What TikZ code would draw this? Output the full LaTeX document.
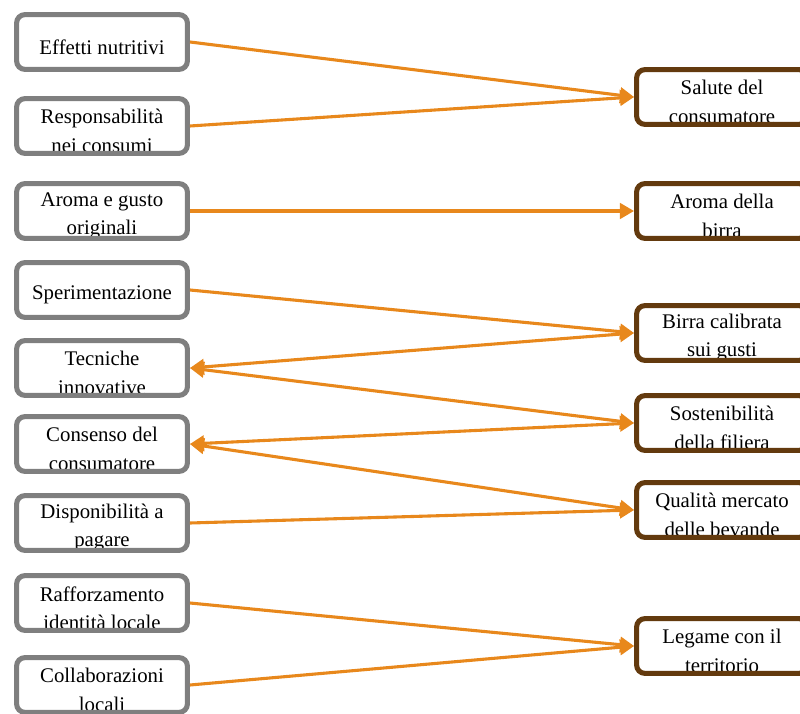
\documentclass[tikz,border=0pt]{standalone}
\usepackage{fontspec}
\setmainfont{Liberation Serif}
\usetikzlibrary{arrows.meta}
\definecolor{framegray}{RGB}{127,127,127}
\definecolor{framebrown}{RGB}{99,58,14}
\definecolor{linkorange}{RGB}{232,136,28}
\tikzset{
  boxtext/.style={inner sep=0pt,align=center,font=\fontsize{14.8}{20}\selectfont},
  factor/.style={draw=framegray,line width=3.6pt,rounded corners=6pt,
    minimum width=4.27cm,minimum height=1.37cm,inner sep=0pt,
    path picture={\node[boxtext] at ([yshift=-3.5pt]path picture bounding box.center) {#1};}},
  outcome/.style={factor={#1},draw=framebrown},
  link/.style={draw=linkorange,line width=2.2pt,-{Triangle[length=10pt,width=11pt]}},
  twolink/.style={link,{Triangle[length=10pt,width=11pt]}-{Triangle[length=10pt,width=11pt]}}
}
\begin{document}
\begin{tikzpicture}[x=0.025cm,y=-0.025cm]
\useasboundingbox (0,0) rectangle (800,714);
% left column
\node[factor={Effetti nutritivi}] (eff) at (102,42) {};
\node[factor={Responsabilità\\nei consumi}] (resp) at (102,126) {};
\node[factor={Aroma e gusto\\originali}] (aroma) at (102,211) {};
\node[factor={Sperimentazione}] (sper) at (102,290) {};
\node[factor={Tecniche\\innovative}] (tecn) at (102,368) {};
\node[factor={Consenso del\\consumatore}] (cons) at (102,444) {};
\node[factor={Disponibilità a\\pagare}] (disp) at (102,523) {};
\node[factor={Rafforzamento\\identità locale}] (raff) at (102,603) {};
\node[factor={Collaborazioni\\locali}] (coll) at (102,685) {};
% right column
\node[outcome={Salute del\\consumatore}] (salute) at (722,97) {};
\node[outcome={Aroma della\\birra}] (birra) at (722,211) {};
\node[outcome={Birra calibrata\\sui gusti}] (calib) at (722,333) {};
\node[outcome={Sostenibilità\\della filiera}] (sost) at (722,423) {};
\node[outcome={Qualità mercato\\delle bevande}] (qual) at (722,510) {};
\node[outcome={Legame con il\\territorio}] (legame) at (722,646) {};
% links
\draw[link] (eff.east) -- (salute.west);
\draw[link] (resp.east) -- (salute.west);
\draw[link] (aroma.east) -- (birra.west);
\draw[link] (sper.east) -- (calib.west);
\draw[twolink] (tecn.east) -- (calib.west);
\draw[twolink] (tecn.east) -- (sost.west);
\draw[twolink] (cons.east) -- (sost.west);
\draw[twolink] (cons.east) -- (qual.west);
\draw[link] (disp.east) -- (qual.west);
\draw[link] (raff.east) -- (legame.west);
\draw[link] (coll.east) -- (legame.west);
\end{tikzpicture}
\end{document}
